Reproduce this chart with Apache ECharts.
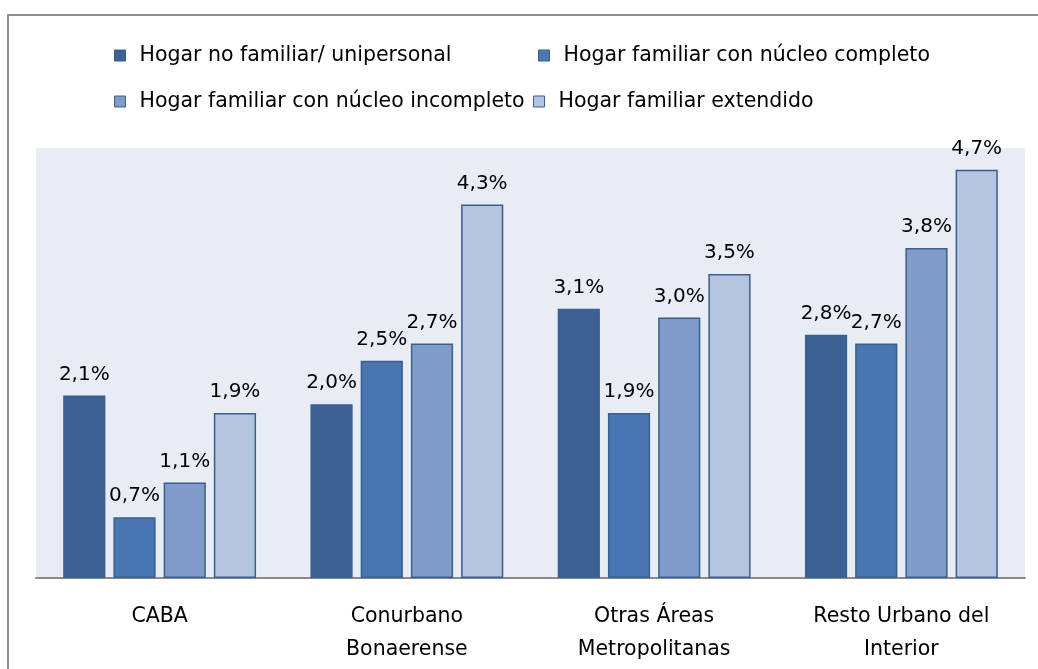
<!DOCTYPE html>
<html>
<head>
<meta charset="utf-8">
<script src="https://cdn.jsdelivr.net/npm/echarts@6/dist/echarts.min.js"></script>
<style>
  html, body { margin: 0; padding: 0; background: #ffffff; }
  #chart { width: 1038px; height: 669px; }
</style>
</head>
<body>
<div id="chart"></div>
<script>
// Regions (x axis) and household types (series)
const categories = ['CABA', 'Conurbano\nBonaerense', 'Otras Áreas\nMetropolitanas', 'Resto Urbano del\nInterior'];
const seriesNames = [
  'Hogar no familiar/ unipersonal',
  'Hogar familiar con núcleo completo',
  'Hogar familiar con núcleo incompleto',
  'Hogar familiar extendido'
];
// Percentages per region
const unipersonal = [2.1, 2.0, 3.1, 2.8];
const nucleoCompleto = [0.7, 2.5, 1.9, 2.7];
const nucleoIncompleto = [1.1, 2.7, 3.0, 3.8];
const extendido = [1.9, 4.3, 3.5, 4.7];

const values = [unipersonal, nucleoCompleto, nucleoIncompleto, extendido];
const colors = ['#3C6294', '#4876B0', '#7F9CC9', '#B5C5DF'];
const FONT = '"DejaVu Sans", sans-serif';

// One legend block per entry, laid out in two rows
const legendSpots = [
  { left: 114, top: 45 },
  { left: 538, top: 45 },
  { left: 114, top: 91 },
  { left: 533, top: 91 }
];

const chart = echarts.init(document.getElementById('chart'), null, { renderer: 'canvas' });

chart.setOption({
  animation: false,
  backgroundColor: '#ffffff',
  graphic: [{
    type: 'rect',
    shape: { x: 8, y: 15, width: 1100, height: 1000 },
    style: { fill: 'none', stroke: '#8f8f8f', lineWidth: 2 },
    z: -10
  }],
  legend: seriesNames.map((name, i) => ({
    data: [name],
    left: legendSpots[i].left,
    top: legendSpots[i].top,
    padding: 0,
    itemWidth: 11,
    itemHeight: 11,
    icon: 'rect',
    selectedMode: false,
    itemStyle: { borderColor: '#3A5F8F', borderWidth: 1 },
    textStyle: { fontFamily: FONT, fontSize: 20.5, color: '#000', padding: [0, 0, 0, 9] }
  })),
  grid: {
    left: 36, right: 13, top: 148, bottom: 91,
    show: true, backgroundColor: '#E8ECF4', borderWidth: 0,
    containLabel: false
  },
  xAxis: {
    type: 'category',
    data: categories,
    axisLine: { lineStyle: { color: '#8A8A8A', width: 2 } },
    axisTick: { show: false },
    axisLabel: {
      fontFamily: FONT, fontSize: 20.5, color: '#000',
      margin: 22, lineHeight: 33
    }
  },
  yAxis: {
    type: 'value', min: 0, max: 4.95,
    show: false,
    splitLine: { show: false }
  },
  series: seriesNames.map((name, i) => ({
    name,
    type: 'bar',
    data: values[i],
    barGap: '19%',
    barCategoryGap: '22%',
    itemStyle: { color: colors[i], borderColor: '#3A5F8F', borderWidth: 1.5 },
    label: {
      show: true, position: 'top', distance: 11,
      fontFamily: FONT, fontSize: 20, color: '#000',
      formatter: p => p.value.toFixed(1).replace('.', ',') + '%'
    }
  }))
});
</script>
</body>
</html>
